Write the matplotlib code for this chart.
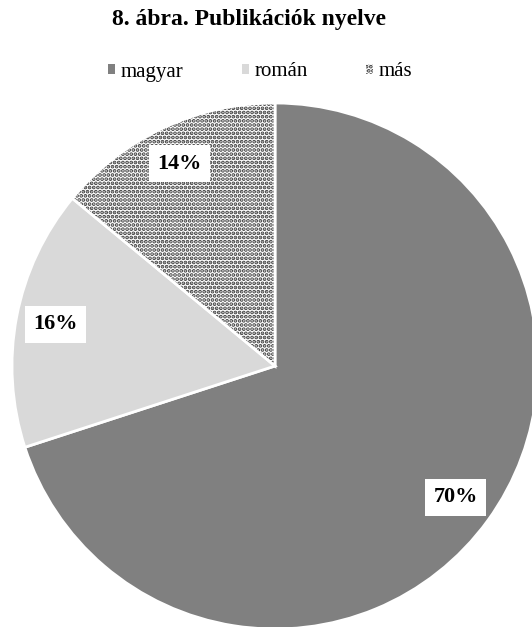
import matplotlib.pyplot as plt
from matplotlib.patches import Patch, Wedge

labels = ['magyar', 'román', 'más']
values = [70, 16, 14]
colors = ['#808080', '#d9d9d9', 'white']
hatches = [None, None, '....']
hatch_col = '#3a3a3a'

plt.rcParams['font.family'] = ['Liberation Serif', 'DejaVu Serif']
plt.rcParams['hatch.linewidth'] = 1.9

fig = plt.figure(figsize=(5.32, 6.27), dpi=100)
fig.text(249 / 532, 1 - 19 / 627, '8. ábra. Publikációk nyelve', ha='center', va='center',
         fontsize=17, fontweight='bold')

# pie axes placed in pixels: centre (275, 366), radius 263
ax = fig.add_axes([12 / 532, (627 - 629) / 627, 526 / 532, 526 / 627])
wedges, texts, autotexts = ax.pie(values, colors=colors, startangle=90, counterclock=False,
                                  autopct='%1.0f%%', pctdistance=0.85,
                                  wedgeprops=dict(edgecolor='white', linewidth=2),
                                  textprops=dict(fontsize=16, fontweight='bold'))
for w, h in zip(wedges, hatches):
    if h:
        # hatch takes the edge colour, so redraw the white border on top
        w.set_edgecolor(hatch_col)
        w.set_linewidth(0)
        w.set_hatch(h)
        border = Wedge(w.center, w.r, w.theta1, w.theta2, facecolor='none',
                       edgecolor='white', linewidth=2, zorder=w.get_zorder() + 0.5)
        ax.add_patch(border)
for t in autotexts:
    t.set_bbox(dict(facecolor='white', edgecolor='none', pad=6))
    t.set_zorder(5)
ax.set_xlim(-1, 1)
ax.set_ylim(-1, 1)
ax.axis('off')

handles = []
for c, h in zip(colors, hatches):
    if h:
        handles.append(Patch(facecolor=c, edgecolor=hatch_col, linewidth=0, hatch=h))
    else:
        handles.append(Patch(facecolor=c, edgecolor='none'))
fig.legend(handles, labels, loc='center', bbox_to_anchor=(260 / 532, 1 - 72 / 627), ncol=3,
           frameon=False, fontsize=15, handlelength=0.35, handleheight=0.35,
           handletextpad=0.25, columnspacing=2.8, borderpad=0)

fig.savefig('out.png', dpi=100)
